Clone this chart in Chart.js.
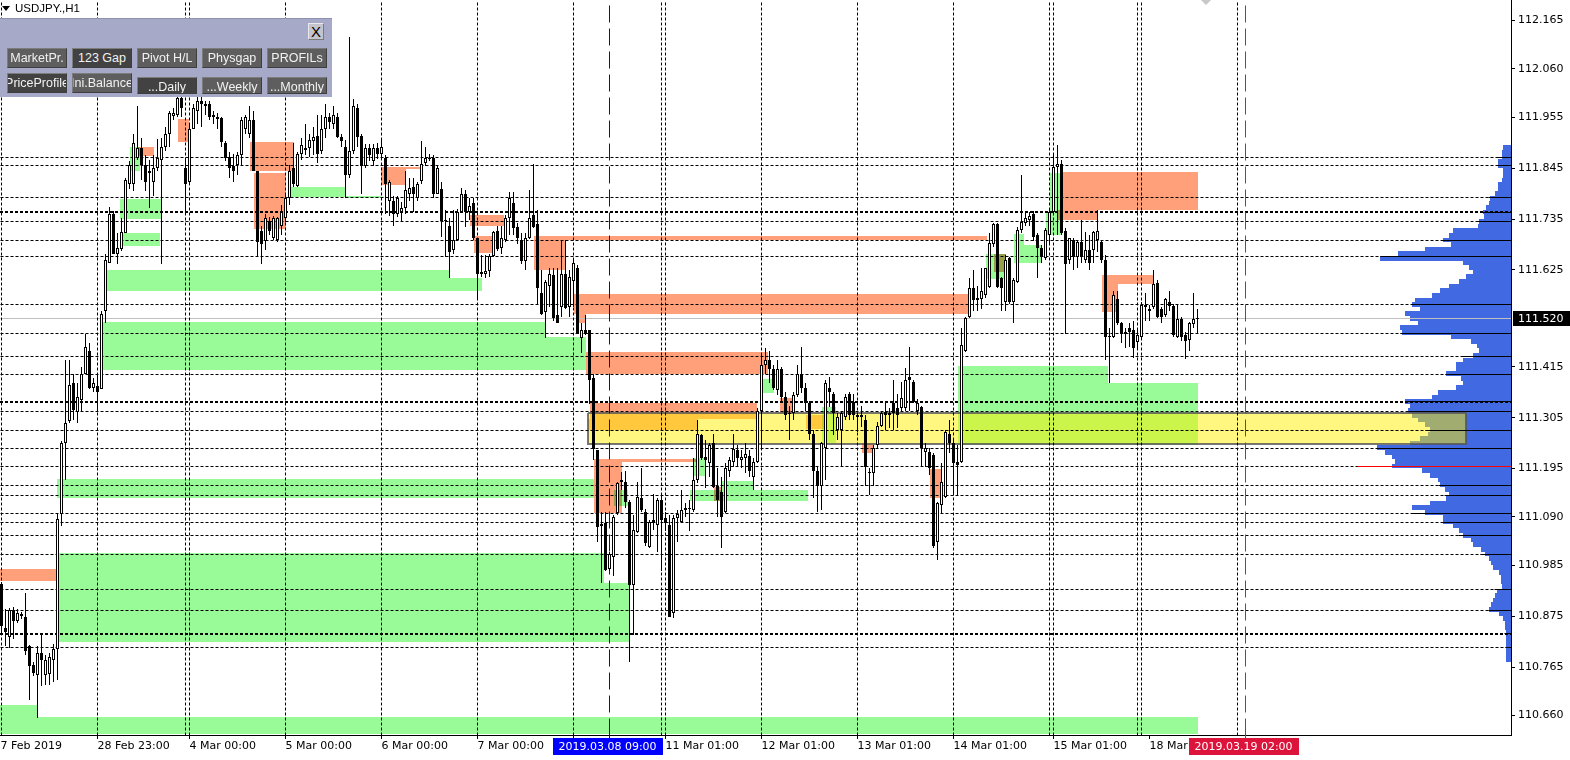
<!DOCTYPE html>
<html lang="en">
<head>
<meta charset="utf-8">
<title>USDJPY.,H1</title>
<script src="https://cdn.jsdelivr.net/npm/chart.js@4.4.1/dist/chart.umd.min.js"></script>
<style>
  html, body { margin: 0; padding: 0; background: #fff; overflow: hidden; }
  #wrap { position: relative; width: 1570px; height: 760px; }
  #grafico { position: absolute; left: 0; top: 0; }
  .tri { position: absolute; left: 2px; top: 6px; width: 0; height: 0; border-left: 4px solid transparent; border-right: 4px solid transparent; border-top: 5px solid #000; }
  .tri2 { position: absolute; left: 1201px; top: 0; width: 0; height: 0; border-left: 5px solid transparent; border-right: 5px solid transparent; border-top: 5px solid #c8c8c8; }
  .titulo { position: absolute; left: 15px; top: 2px; font: 11.5px "Liberation Sans", Arial, sans-serif; color: #000; }
  .panel { position: absolute; left: 0; top: 18px; width: 332px; height: 79px; background: #a6a9c8; border-top: 1px solid #8e91b2; box-sizing: border-box; }
  .btn { position: absolute; width: 60px; height: 20px; box-sizing: border-box; background: #5e5e5e; border: 1px solid #3e3e3e; border-top-color: #7c7c7c; border-left-color: #7c7c7c; color: #f2f2f2; font: 12.5px "Liberation Sans", Arial, sans-serif; display: flex; justify-content: center; align-items: center; overflow: hidden; white-space: nowrap; }
  .btn.on { background: #424242; }
  .btn.low { height: 17px; align-items: flex-start; padding-top: 2px; }
  .cerrar { position: absolute; left: 308px; top: 4px; width: 16px; height: 17px; box-sizing: border-box; background: #c4c4cc; border: 1px solid #7a7a7a; border-top-color: #e8e8ee; border-left-color: #e8e8ee; font: 15px "Liberation Sans", Arial, sans-serif; color: #000; text-align: center; line-height: 15px; }
</style>
</head>
<body>
<div id="wrap">
  <canvas id="grafico" width="1570" height="760"></canvas>
  <div class="tri"></div>
  <div class="titulo">USDJPY.,H1</div>
  <div class="tri2"></div>
  <div class="panel">
    <div class="cerrar">X</div>
    <div class="btn" style="left:7px;top:29px">MarketPr.</div>
    <div class="btn on" style="left:72px;top:29px">123 Gap</div>
    <div class="btn" style="left:137px;top:29px">Pivot H/L</div>
    <div class="btn" style="left:202px;top:29px">Physgap</div>
    <div class="btn" style="left:267px;top:29px">PROFILs</div>
    <div class="btn on" style="left:7px;top:54px">PriceProfile</div>
    <div class="btn" style="left:72px;top:54px">Ini.Balance</div>
    <div class="btn low on" style="left:137px;top:58px">...Daily</div>
    <div class="btn low" style="left:202px;top:58px">...Weekly</div>
    <div class="btn low" style="left:267px;top:58px">...Monthly</div>
  </div>
</div>
<script>
//Velas H1 (27 Feb - 18 Mar 2019)
const open = [
  110.945, 110.850, 110.830, 110.888, 110.864, 110.880, 110.873, 110.810, 110.770, 110.748,
  110.795, 110.748, 110.750, 110.780, 110.805, 111.096, 111.250, 111.298, 111.380, 111.317,
  111.344, 111.400, 111.450, 111.370, 111.373, 111.366, 111.535, 111.640, 111.747, 111.660,
  111.670, 111.705, 111.810, 111.810, 111.868, 111.888, 111.853, 111.840, 111.815, 111.845,
  111.863, 111.890, 111.920, 111.958, 111.960, 111.998, 111.845, 111.815, 111.930, 111.970,
  111.990, 111.985, 111.984, 111.960, 111.955, 111.953, 111.900, 111.870, 111.850, 111.853,
  111.873, 111.930, 111.920, 111.950, 111.840, 111.710, 111.688, 111.730, 111.694, 111.690,
  111.720, 111.737, 111.780, 111.845, 111.806, 111.876, 111.888, 111.888, 111.905, 111.914,
  111.882, 111.930, 111.955, 111.940, 111.955, 111.912, 111.892, 111.830, 111.883, 111.975,
  111.914, 111.850, 111.888, 111.860, 111.888, 111.877, 111.868, 111.775, 111.775, 111.745,
  111.750, 111.760, 111.790, 111.805, 111.780, 111.818, 111.857, 111.866, 111.868, 111.790,
  111.800, 111.732, 111.720, 111.667, 111.690, 111.750, 111.790, 111.750, 111.770, 111.693,
  111.620, 111.617, 111.622, 111.655, 111.710, 111.672, 111.690, 111.737, 111.770, 111.717,
  111.690, 111.645, 111.695, 111.743, 111.725, 111.576, 111.533, 111.590, 111.613, 111.527,
  111.545, 111.617, 111.545, 111.600, 111.630, 111.477, 111.494, 111.494, 111.390, 111.234,
  111.070, 111.076, 110.978, 111.003, 111.098, 111.170, 111.165, 111.122, 110.942, 111.057,
  111.130, 111.100, 111.024, 111.083, 111.072, 111.126, 111.087, 111.072, 110.882, 111.087,
  111.078, 111.104, 111.107, 111.104, 111.169, 111.267, 111.220, 111.206, 111.250, 111.158,
  111.143, 111.100, 111.190, 111.210, 111.234, 111.213, 111.217, 111.223, 111.176, 111.208,
  111.320, 111.418, 111.430, 111.410, 111.365, 111.410, 111.350, 111.315, 111.314, 111.355,
  111.400, 111.370, 111.336, 111.270, 111.190, 111.158, 111.240, 111.370, 111.357, 111.278,
  111.278, 111.306, 111.357, 111.338, 111.310, 111.306, 111.300, 111.187, 111.185, 111.245,
  111.288, 111.317, 111.310, 111.336, 111.325, 111.325, 111.325, 111.392, 111.382, 111.320,
  111.327, 111.230, 111.230, 111.225, 111.035, 111.115, 111.133, 111.270, 111.250, 111.208,
  111.208, 111.450, 111.522, 111.585, 111.565, 111.563, 111.570, 111.587, 111.680, 111.725,
  111.607, 111.555, 111.650, 111.555, 111.598, 111.711, 111.727, 111.732, 111.745, 111.700,
  111.673, 111.650, 111.700, 111.750, 111.847, 111.855, 111.710, 111.646, 111.690, 111.652,
  111.685, 111.646, 111.667, 111.667, 111.690, 111.685, 111.646, 111.482, 111.479, 111.563,
  111.510, 111.487, 111.500, 111.494, 111.468, 111.479, 111.544, 111.540, 111.544, 111.596,
  111.540, 111.527, 111.555, 111.546, 111.479, 111.518, 111.483, 111.474, 111.507, 111.518
];
const high = [
  110.950, 110.890, 110.892, 110.896, 110.890, 110.885, 110.925, 110.812, 110.775, 110.810,
  110.834, 110.790, 110.795, 110.815, 111.096, 111.254, 111.430, 111.430, 111.400, 111.380,
  111.414, 111.487, 111.467, 111.390, 111.400, 111.535, 111.660, 111.762, 111.752, 111.705,
  111.737, 111.825, 111.860, 111.920, 111.980, 111.910, 111.873, 111.863, 111.873, 111.908,
  111.910, 111.935, 111.970, 111.975, 112.070, 112.008, 111.868, 111.940, 111.985, 112.008,
  112.000, 111.990, 111.990, 111.970, 111.965, 111.955, 111.905, 111.880, 111.877, 111.880,
  111.955, 111.960, 111.980, 111.970, 111.840, 111.720, 111.747, 111.740, 111.742, 111.740,
  111.765, 111.790, 111.853, 111.900, 111.880, 111.910, 111.940, 111.920, 111.935, 111.960,
  111.960, 111.985, 111.965, 111.980, 111.965, 111.920, 111.907, 112.130, 111.995, 111.985,
  111.920, 111.897, 111.897, 111.897, 111.900, 111.910, 111.873, 111.820, 111.786, 111.786,
  111.772, 111.840, 111.823, 111.823, 111.815, 111.905, 111.890, 111.875, 111.873, 111.850,
  111.815, 111.755, 111.737, 111.755, 111.757, 111.803, 111.797, 111.780, 111.780, 111.695,
  111.657, 111.657, 111.660, 111.710, 111.720, 111.720, 111.743, 111.793, 111.793, 111.727,
  111.705, 111.705, 111.797, 111.855, 111.755, 111.624, 111.602, 111.630, 111.630, 111.630,
  111.690, 111.690, 111.624, 111.646, 111.635, 111.510, 111.527, 111.494, 111.400, 111.234,
  111.100, 111.100, 111.013, 111.094, 111.165, 111.187, 111.190, 111.126, 111.094, 111.165,
  111.195, 111.108, 111.083, 111.140, 111.130, 111.140, 111.100, 111.094, 111.094, 111.104,
  111.148, 111.120, 111.126, 111.217, 111.299, 111.270, 111.256, 111.250, 111.270, 111.195,
  111.176, 111.206, 111.220, 111.270, 111.245, 111.235, 111.250, 111.234, 111.217, 111.325,
  111.440, 111.455, 111.450, 111.420, 111.430, 111.415, 111.360, 111.330, 111.360, 111.420,
  111.457, 111.380, 111.342, 111.278, 111.198, 111.252, 111.386, 111.392, 111.360, 111.314,
  111.320, 111.357, 111.360, 111.357, 111.314, 111.330, 111.310, 111.196, 111.245, 111.295,
  111.318, 111.342, 111.325, 111.386, 111.357, 111.382, 111.412, 111.457, 111.386, 111.345,
  111.330, 111.250, 111.240, 111.228, 111.122, 111.206, 111.278, 111.299, 111.256, 111.245,
  111.500, 111.522, 111.607, 111.624, 111.590, 111.628, 111.630, 111.705, 111.727, 111.727,
  111.610, 111.657, 111.653, 111.607, 111.717, 111.830, 111.750, 111.750, 111.752, 111.705,
  111.678, 111.715, 111.755, 111.873, 111.895, 111.862, 111.715, 111.695, 111.693, 111.690,
  111.732, 111.706, 111.700, 111.710, 111.754, 111.690, 111.657, 111.500, 111.580, 111.580,
  111.512, 111.500, 111.510, 111.515, 111.500, 111.555, 111.576, 111.550, 111.624, 111.602,
  111.544, 111.565, 111.580, 111.552, 111.552, 111.522, 111.490, 111.512, 111.576, 111.540
];
const low = [
  110.834, 110.810, 110.806, 110.825, 110.860, 110.870, 110.790, 110.693, 110.745, 110.655,
  110.723, 110.727, 110.727, 110.732, 110.737, 111.070, 111.170, 111.293, 111.300, 111.293,
  111.317, 111.400, 111.366, 111.360, 111.317, 111.366, 111.510, 111.640, 111.660, 111.637,
  111.665, 111.705, 111.800, 111.795, 111.863, 111.820, 111.795, 111.760, 111.786, 111.840,
  111.637, 111.882, 111.890, 111.950, 111.955, 111.955, 111.745, 111.810, 111.930, 111.940,
  111.935, 111.960, 111.950, 111.940, 111.930, 111.890, 111.860, 111.825, 111.815, 111.830,
  111.853, 111.920, 111.910, 111.840, 111.655, 111.637, 111.668, 111.700, 111.690, 111.685,
  111.700, 111.728, 111.765, 111.805, 111.805, 111.863, 111.873, 111.870, 111.873, 111.857,
  111.875, 111.910, 111.930, 111.930, 111.910, 111.890, 111.780, 111.825, 111.877, 111.890,
  111.790, 111.845, 111.860, 111.850, 111.865, 111.865, 111.745, 111.742, 111.720, 111.740,
  111.730, 111.745, 111.775, 111.750, 111.775, 111.812, 111.850, 111.860, 111.780, 111.790,
  111.697, 111.652, 111.607, 111.660, 111.687, 111.750, 111.718, 111.733, 111.690, 111.565,
  111.610, 111.607, 111.610, 111.652, 111.665, 111.660, 111.685, 111.700, 111.700, 111.682,
  111.638, 111.624, 111.692, 111.715, 111.548, 111.527, 111.477, 111.545, 111.515, 111.510,
  111.522, 111.540, 111.522, 111.545, 111.487, 111.445, 111.483, 111.335, 111.213, 111.035,
  110.946, 110.974, 110.974, 110.963, 111.094, 111.148, 111.110, 110.775, 110.834, 111.055,
  111.100, 111.028, 111.022, 111.061, 111.013, 110.974, 111.060, 110.873, 110.871, 111.035,
  111.076, 111.090, 111.060, 111.100, 111.163, 111.213, 111.152, 111.176, 111.152, 111.090,
  111.022, 111.098, 111.176, 111.198, 111.200, 111.195, 111.185, 111.176, 111.148, 111.206,
  111.238, 111.400, 111.380, 111.365, 111.355, 111.340, 111.300, 111.256, 111.300, 111.350,
  111.358, 111.320, 111.256, 111.132, 111.100, 111.104, 111.170, 111.327, 111.267, 111.256,
  111.200, 111.300, 111.300, 111.300, 111.275, 111.285, 111.158, 111.137, 111.158, 111.240,
  111.285, 111.278, 111.283, 111.278, 111.283, 111.320, 111.320, 111.320, 111.336, 111.310,
  111.198, 111.198, 111.180, 111.022, 110.996, 111.098, 111.130, 111.228, 111.137, 111.137,
  111.206, 111.447, 111.520, 111.537, 111.537, 111.540, 111.565, 111.585, 111.675, 111.585,
  111.537, 111.537, 111.552, 111.510, 111.596, 111.705, 111.720, 111.720, 111.687, 111.607,
  111.640, 111.646, 111.678, 111.748, 111.700, 111.700, 111.487, 111.638, 111.624, 111.630,
  111.640, 111.640, 111.624, 111.640, 111.664, 111.640, 111.430, 111.380, 111.477, 111.505,
  111.466, 111.455, 111.457, 111.435, 111.455, 111.477, 111.515, 111.515, 111.540, 111.520,
  111.510, 111.522, 111.537, 111.479, 111.477, 111.472, 111.433, 111.450, 111.500, 111.487
];
const close = [
  110.853, 110.840, 110.888, 110.864, 110.882, 110.875, 110.800, 110.767, 110.752, 110.795,
  110.780, 110.780, 110.786, 110.805, 111.085, 111.250, 111.293, 111.375, 111.322, 111.350,
  111.400, 111.457, 111.370, 111.380, 111.360, 111.530, 111.646, 111.747, 111.660, 111.673,
  111.708, 111.820, 111.853, 111.900, 111.888, 111.853, 111.815, 111.835, 111.845, 111.868,
  111.892, 111.920, 111.965, 111.965, 111.998, 111.975, 111.810, 111.930, 111.975, 111.990,
  111.985, 111.980, 111.955, 111.955, 111.952, 111.902, 111.868, 111.845, 111.840, 111.873,
  111.950, 111.955, 111.950, 111.840, 111.685, 111.680, 111.737, 111.710, 111.737, 111.737,
  111.750, 111.780, 111.840, 111.810, 111.877, 111.895, 111.884, 111.907, 111.912, 111.876,
  111.930, 111.955, 111.945, 111.960, 111.912, 111.905, 111.830, 111.883, 111.980, 111.912,
  111.850, 111.888, 111.873, 111.888, 111.877, 111.890, 111.810, 111.815, 111.745, 111.780,
  111.758, 111.797, 111.803, 111.790, 111.810, 111.855, 111.868, 111.868, 111.790, 111.846,
  111.730, 111.730, 111.663, 111.690, 111.750, 111.790, 111.750, 111.764, 111.695, 111.617,
  111.617, 111.622, 111.655, 111.706, 111.670, 111.693, 111.738, 111.780, 111.715, 111.695,
  111.645, 111.695, 111.738, 111.717, 111.585, 111.530, 111.598, 111.617, 111.520, 111.510,
  111.617, 111.543, 111.610, 111.640, 111.487, 111.494, 111.487, 111.386, 111.238, 111.068,
  111.075, 110.976, 111.010, 111.090, 111.163, 111.165, 111.122, 110.942, 111.061, 111.133,
  111.104, 111.033, 111.078, 111.076, 111.126, 111.083, 111.076, 110.873, 111.087, 111.097,
  111.104, 111.110, 111.110, 111.169, 111.270, 111.217, 111.213, 111.245, 111.154, 111.126,
  111.090, 111.195, 111.213, 111.238, 111.217, 111.220, 111.227, 111.190, 111.208, 111.320,
  111.418, 111.430, 111.410, 111.370, 111.410, 111.350, 111.310, 111.312, 111.355, 111.400,
  111.370, 111.336, 111.270, 111.190, 111.158, 111.250, 111.380, 111.360, 111.314, 111.306,
  111.314, 111.350, 111.310, 111.310, 111.306, 111.310, 111.198, 111.185, 111.240, 111.288,
  111.314, 111.310, 111.315, 111.314, 111.310, 111.347, 111.386, 111.386, 111.338, 111.336,
  111.240, 111.240, 111.195, 111.028, 111.120, 111.165, 111.273, 111.250, 111.206, 111.202,
  111.462, 111.520, 111.585, 111.560, 111.560, 111.580, 111.628, 111.683, 111.725, 111.587,
  111.585, 111.646, 111.555, 111.602, 111.711, 111.728, 111.737, 111.742, 111.697, 111.673,
  111.652, 111.711, 111.750, 111.847, 111.855, 111.705, 111.638, 111.693, 111.652, 111.685,
  111.652, 111.667, 111.640, 111.706, 111.710, 111.646, 111.479, 111.479, 111.570, 111.510,
  111.487, 111.490, 111.490, 111.455, 111.483, 111.548, 111.548, 111.537, 111.594, 111.522,
  111.524, 111.563, 111.546, 111.483, 111.518, 111.479, 111.472, 111.509, 111.518, 111.520
];

//Escala de precios y fechas
const yTicks = [112.165, 112.060, 111.955, 111.845, 111.735, 111.625, 111.415, 111.305, 111.195, 111.090, 110.985, 110.875, 110.765, 110.660];
const tickIdx = [-2, 24, 47, 71, 95, 119, 143, 166, 190, 214, 238, 263, 287];
const tickLabels = ['27 Feb 2019', '28 Feb 23:00', '4 Mar 00:00', '5 Mar 00:00', '6 Mar 00:00', '7 Mar 00:00', '8 Mar 00:00',
  '11 Mar 01:00', '12 Mar 01:00', '13 Mar 01:00', '14 Mar 01:00', '15 Mar 01:00', '18 Mar 01:00'];

//Niveles horizontales y separadores verticales
const levels = [111.869, 111.850, 111.781, 111.729, 111.688, 111.655, 111.549, 111.488, 111.438, 111.399, 111.319, 111.278,
  111.239, 111.200, 111.159, 111.137, 111.098, 111.079, 111.049, 111.008, 110.932, 110.888, 110.808];
const boldLevels = [111.750, 111.339, 110.837];
const vlineIdx = [0, 24, 46, 47, 71, 95, 119, 143, 165, 166, 190, 214, 238, 262, 263, 284, 285, 309];

//Zonas [barra inicio, barra fin, precio arriba, precio abajo]
const greenZones = [
  [-0.5, 299, 110.657, 110.620], [-0.5, 9, 110.683, 110.657], [13.5, 157, 110.947, 110.819], [13.5, 150.5, 111.012, 110.947],
  [14, 148, 111.172, 111.131], [24.5, 136, 111.512, 111.480], [24.5, 146, 111.480, 111.408], [25.5, 112, 111.625, 111.579],
  [112, 120, 111.607, 111.579], [32, 34.5, 111.891, 111.839], [29.5, 40, 111.778, 111.735], [30, 39.5, 111.705, 111.677],
  [71.5, 86, 111.804, 111.783], [86, 95, 111.785, 111.781], [153, 156.5, 111.148, 111.114], [172, 201.5, 111.148, 111.125],
  [180, 188, 111.168, 111.148], [173, 176, 111.218, 111.179], [190, 193, 111.389, 111.358], [205, 208.5, 111.328, 111.250],
  [239, 276.5, 111.417, 111.246], [276.5, 299, 111.380, 111.246], [246, 251, 111.659, 111.605], [253, 255.5, 111.703, 111.679],
  [253, 260, 111.679, 111.640], [261, 265, 111.748, 111.701], [262, 265, 111.835, 111.748]
];
const orangeZones = [
  [-0.5, 13.5, 110.977, 110.951], [34, 38, 111.891, 111.872], [44, 47, 111.952, 111.902], [62, 73, 111.902, 111.839],
  [63, 71, 111.835, 111.713], [95, 101, 111.848, 111.809], [101, 104.5, 111.848, 111.843], [117, 125.5, 111.744, 111.720],
  [118, 122.5, 111.699, 111.662], [133, 141, 111.699, 111.625], [141, 246.5, 111.699, 111.690], [143, 242, 111.573, 111.529],
  [143.5, 146, 111.529, 111.510], [146, 191.5, 111.447, 111.399], [147, 189, 111.337, 111.302], [146.5, 174, 111.302, 111.278],
  [148, 155, 111.215, 111.099], [155, 173.5, 111.215, 111.209], [178, 180, 111.155, 111.125], [194.5, 198, 111.347, 111.315],
  [201, 205.5, 111.311, 111.280], [215, 218, 111.250, 111.228], [232, 235, 111.194, 111.131], [248, 251, 111.659, 111.620],
  [264.5, 299, 111.837, 111.755], [264, 274, 111.755, 111.733], [275, 288, 111.614, 111.594], [275, 279, 111.594, 111.534]
];
const valueArea = [146.5, 366, 111.315, 111.248];

//Perfil de volumen (desde 110.78 cada 0.01)
const profileLow = 110.78;
const profileStep = 0.01;
const profileVol = [
  5, 5, 5, 5, 5, 5, 5, 6, 6, 8, 12, 22, 20, 18, 16, 14, 9, 10, 10, 12,
  18, 20, 22, 26, 30, 38, 40, 48, 52, 58, 68, 68, 85, 98, 80, 65, 62, 66, 70, 72,
  80, 88, 118, 115, 118, 125, 133, 100, 90, 82, 80, 85, 92, 98, 102, 100, 105, 78, 72, 55,
  48, 50, 65, 55, 55, 48, 38, 32, 34, 40, 60, 108, 110, 92, 100, 105, 90, 98, 95, 78,
  70, 62, 52, 45, 38, 42, 48, 130, 112, 85, 60, 68, 62, 58, 33, 32, 27, 28, 25, 22,
  21, 16, 13, 13, 9, 8, 8, 13, 13, 9, 9, 8
];
const pocPrice = 111.199;
const pocVol = 152;

//Marcas de tiempo
const markIdx = [152, 311];
const markLabels = ['2019.03.08 09:00', '2019.03.19 02:00'];
const markColors = ['#0000ff', '#dc143c'];

const xMin = -0.375, xMax = 377.375;
const yMin = 110.6178, yMax = 112.2094;
const lastPrice = close[close.length - 1];

//Convierte rectangulos a poligonos separados por huecos
function rectPoints(list) {
  let pts = [];
  list.forEach(r => {
    pts.push({ x: r[0], y: r[2] }, { x: r[1], y: r[2] }, { x: r[1], y: r[3] }, { x: r[0], y: r[3] }, { x: r[0], y: r[2] }, { x: r[0], y: null });
  });
  return pts;
}
function hPoints(list) {
  let pts = [];
  list.forEach(p => { pts.push({ x: xMin, y: p }, { x: xMax, y: p }, { x: xMax, y: null }); });
  return pts;
}
function vPoints(list) {
  let pts = [];
  list.forEach(i => { pts.push({ x: i, y: yMin }, { x: i, y: yMax }, { x: i, y: null }); });
  return pts;
}
//Tramo solido de cada nivel encima del perfil (largo = volumen cercano)
function profileLevelPoints(list) {
  let pts = [];
  list.forEach(p => {
    let k = Math.round((p - profileLow) / profileStep);
    if (k < 0 || k >= profileVol.length) return;
    let len = Math.max(profileVol[k - 1] || 0, profileVol[k], profileVol[k + 1] || 0);
    pts.push({ x: 0, y: p }, { x: len, y: p }, { x: len, y: null });
  });
  return pts;
}

function noPad(s) {
  s.paddingLeft = 0; s.paddingRight = 0; s.paddingTop = 0; s.paddingBottom = 0;
}

//Ajusta a pixeles enteros para lineas nitidas
const snapPlugin = {
  id: 'snap',
  afterDatasetsUpdate(chart) {
    chart.data.datasets.forEach((ds, k) => {
      let meta = chart.getDatasetMeta(k);
      if (ds.type === 'line') {
        let off = (ds.borderWidth || 0) % 2 === 1 ? 0.5 : 0;
        meta.data.forEach(pt => {
          pt.x = Math.round(pt.x - off) + off;
          pt.y = Math.round(pt.y - off) + off;
        });
      } else if (ds.indexAxis === 'y') {
        meta.data.forEach(b => {
          let top = Math.round(b.y - b.height / 2);
          let bot = Math.round(b.y + b.height / 2);
          b.y = (top + bot) / 2;
          b.height = bot - top;
          b.x = Math.round(b.x);
          b.base = Math.round(b.base);
        });
      } else {
        meta.data.forEach(b => {
          b.y = Math.round(b.y);
          b.base = Math.round(b.base);
          if (b.base === b.y) b.base = b.y + 1;
        });
      }
    });
  }
};

//Mezcla multiplicar para las zonas (se cruzan como en MT4)
const blendPlugin = {
  id: 'blend',
  beforeDatasetsDraw(chart) { chart.ctx.globalCompositeOperation = 'multiply'; },
  afterDatasetDraw(chart, args) {
    if (chart.data.datasets[args.index].label === 'zonasNaranja') chart.ctx.globalCompositeOperation = 'source-over';
  }
};

//Etiqueta del precio actual y de las lineas de tiempo
const labelPlugin = {
  id: 'etiquetas',
  afterDraw(chart) {
    const { ctx, chartArea: a, scales } = chart;
    ctx.save();
    ctx.font = '11px "DejaVu Sans"';
    let py = Math.round(scales.y.getPixelForValue(lastPrice));
    ctx.fillStyle = '#000';
    ctx.fillRect(a.right + 2, py - 7, chart.width - a.right - 2, 15);
    ctx.fillStyle = '#fff';
    ctx.textBaseline = 'middle';
    ctx.textAlign = 'left';
    ctx.fillText(lastPrice.toFixed(3), a.right + 7, py + 1);
    markIdx.forEach((m, k) => {
      let px = Math.round(scales.x.getPixelForValue(m) - 0.5) + 0.5;
      let w = Math.round(ctx.measureText(markLabels[k]).width + 12);
      ctx.fillStyle = markColors[k];
      ctx.fillRect(Math.round(px - w / 2) - 2, a.bottom + 3, w, 17);
      ctx.fillRect(px - 0.5, a.bottom, 1, 4);
      ctx.fillStyle = '#fff';
      ctx.textAlign = 'center';
      ctx.fillText(markLabels[k], px - 2, a.bottom + 12);
    });
    ctx.restore();
  }
};

const ctx = document.getElementById('grafico');
const grafico = new Chart(ctx, {
  type: 'line',
  data: {
    datasets: [
      {
        type: 'line', label: 'zonasVerde', data: rectPoints(greenZones), fill: 'shape',
        backgroundColor: '#98fb98', borderWidth: 0, pointRadius: 0, order: 10
      },
      {
        type: 'line', label: 'zonasNaranja', data: rectPoints(orangeZones), fill: 'shape',
        backgroundColor: '#ffa07a', borderWidth: 0, pointRadius: 0, order: 9
      },
      {
        type: 'bar', label: 'perfil', indexAxis: 'y', xAxisID: 'xv', yAxisID: 'yp',
        data: profileVol.map((v, k) => ({ x: v, y: Number((profileLow + k * profileStep).toFixed(3)) })),
        backgroundColor: '#4169e1', borderWidth: 0, barPercentage: 1, categoryPercentage: 1,
        grouped: false, inflateAmount: 0, order: 8
      },
      {
        type: 'line', label: 'areaValor', data: rectPoints([valueArea]), fill: 'shape',
        backgroundColor: 'rgba(255,240,0,0.5)', borderColor: 'rgba(85,85,85,0.8)', borderWidth: 2,
        pointRadius: 0, order: 7
      },
      {
        type: 'line', label: 'niveles', data: hPoints(levels), borderColor: '#000', borderWidth: 1,
        borderDash: [3, 2], pointRadius: 0, fill: false, order: 6
      },
      {
        type: 'line', label: 'nivelesFuertes', data: hPoints(boldLevels), borderColor: '#000', borderWidth: 2,
        borderDash: [3, 2], pointRadius: 0, fill: false, order: 6
      },
      {
        type: 'line', label: 'nivelesPerfil', xAxisID: 'xv', data: profileLevelPoints(levels.concat(boldLevels)),
        borderColor: '#000', borderWidth: 1, pointRadius: 0, fill: false, order: 5
      },
      {
        type: 'line', label: 'separadores', data: vPoints(vlineIdx), borderColor: '#000', borderWidth: 1,
        borderDash: [3, 2], pointRadius: 0, fill: false, order: 6
      },
      {
        type: 'line', label: 'precio', data: hPoints([lastPrice]), borderColor: '#c0c0c0', borderWidth: 1,
        pointRadius: 0, fill: false, order: 6
      },
      {
        type: 'line', label: 'poc', xAxisID: 'xv', data: [{ x: 0, y: pocPrice }, { x: pocVol, y: pocPrice }],
        borderColor: '#ff0000', borderWidth: 1, pointRadius: 0, fill: false, order: 4
      },
      {
        type: 'line', label: 'marcaAzul', data: vPoints([markIdx[0]]), borderColor: markColors[0], borderWidth: 1,
        borderDash: [17, 6], pointRadius: 0, fill: false, order: 5
      },
      {
        type: 'line', label: 'marcaRoja', data: vPoints([markIdx[1]]), borderColor: markColors[1], borderWidth: 1,
        borderDash: [17, 6], pointRadius: 0, fill: false, order: 5
      },
      {
        type: 'bar', label: 'mecha', data: open.map((o, i) => ({ x: i, y: [low[i], high[i]] })),
        backgroundColor: '#000', borderWidth: 0, barThickness: 1, grouped: false, inflateAmount: 0, order: 2
      },
      {
        type: 'bar', label: 'cuerpo', data: open.map((o, i) => ({ x: i, y: [o, close[i]] })),
        backgroundColor: open.map((o, i) => close[i] >= o ? '#fff' : '#000'),
        borderColor: '#000', borderWidth: 1, borderSkipped: false, barThickness: 3,
        grouped: false, inflateAmount: 0, order: 1
      }
    ]
  },
  options: {
    responsive: false,
    devicePixelRatio: 1,
    animation: false,
    events: [],
    layout: { padding: 0 },
    plugins: { legend: { display: false }, tooltip: { enabled: false } },
    scales: {
      x: {
        type: 'linear', min: xMin, max: xMax, offset: false,
        afterBuildTicks: s => { s.ticks = tickIdx.map(v => ({ value: v })); },
        afterFit: s => { s.height = 25; noPad(s); },
        grid: { offset: false, drawOnChartArea: false, drawTicks: true, tickLength: 4, color: '#000' },
        border: { display: true, color: '#000' },
        ticks: {
          autoSkip: false, maxRotation: 0, align: 'start', padding: 1, color: '#000',
          font: { family: 'DejaVu Sans', size: 11 },
          callback: (v, i) => tickLabels[i]
        }
      },
      y: {
        type: 'linear', position: 'right', min: yMin, max: yMax,
        afterBuildTicks: s => { s.ticks = yTicks.map(v => ({ value: v })); },
        afterFit: s => { s.width = 59; noPad(s); },
        grid: { drawOnChartArea: false, drawTicks: true, tickLength: 4, color: '#000' },
        border: { display: true, color: '#000' },
        ticks: {
          padding: 3, color: '#000', font: { family: 'DejaVu Sans', size: 11 },
          callback: v => v.toFixed(3)
        }
      },
      xv: { type: 'linear', axis: 'x', display: false, reverse: true, min: 0, max: 1500, afterFit: noPad },
      yp: { type: 'linear', axis: 'y', display: false, offset: false, min: yMin, max: yMax, afterFit: noPad }
    }
  },
  plugins: [snapPlugin, blendPlugin, labelPlugin]
});
</script>
</body>
</html>
